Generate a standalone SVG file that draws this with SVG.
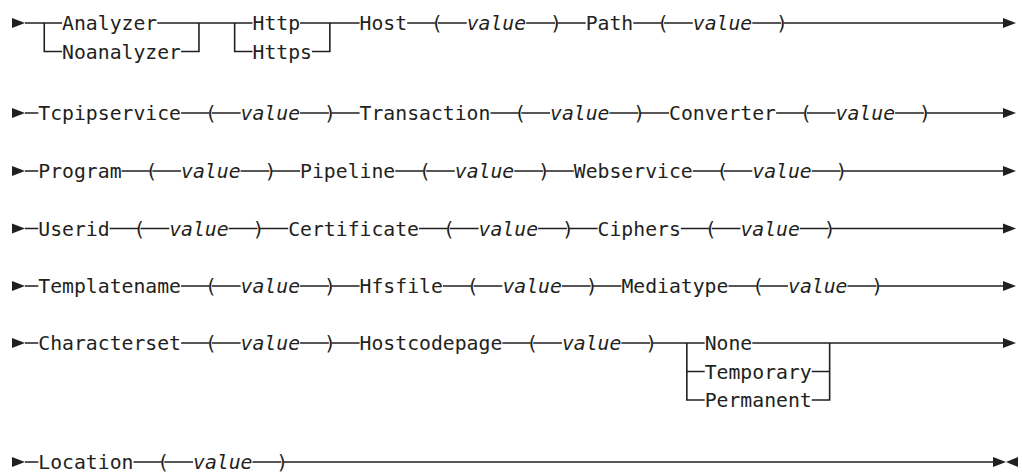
<svg xmlns="http://www.w3.org/2000/svg" width="1022" height="473" viewBox="0 0 1022 473">
<style>
.t{font-family:"DejaVu Sans Mono","Liberation Mono",monospace;font-size:19.75px;fill:#231f20}
.v{font-style:italic}
.ln{fill:none;stroke:#231f20;stroke-width:1.6}
.ar{fill:#231f20}
</style>
<rect width="1022" height="473" fill="#fff"/>
<g id="connectors">
<path class="ln" d="M25 23H62.1 M44.25 23V51.5H62.1 M157.3 23H252.5 M181.1 51.5H198.95V23 M234.65 23V51.5H252.5 M300.1 23H359.6 M312 51.5H329.85V23 M407.2 23H435.5 M438 23H466.7 M526.2 23H555 M557.5 23H585.7 M633.3 23H661.6 M664.1 23H692.8 M752.3 23H781.1 M783.6 23H1004"/>
<path class="ln" d="M25 113H38.3 M181.1 113H209.4 M211.9 113H240.6 M300.1 113H328.9 M331.4 113H359.6 M490.5 113H518.8 M521.3 113H550 M609.5 113H638.3 M640.8 113H669 M776.1 113H804.4 M806.9 113H835.6 M895.1 113H923.9 M926.4 113H1004"/>
<path class="ln" d="M25 171H38.3 M121.6 171H149.9 M152.4 171H181.1 M240.6 171H269.4 M271.9 171H300.1 M395.3 171H423.6 M426.1 171H454.8 M514.3 171H543.1 M545.6 171H573.8 M692.8 171H721.1 M723.6 171H752.3 M811.8 171H840.6 M843.1 171H1004"/>
<path class="ln" d="M25 228.5H38.3 M109.7 228.5H138 M140.5 228.5H169.2 M228.7 228.5H257.5 M260 228.5H288.2 M419.1 228.5H447.4 M449.9 228.5H478.6 M538.1 228.5H566.9 M569.4 228.5H597.6 M680.9 228.5H709.2 M711.7 228.5H740.4 M799.9 228.5H828.7 M831.2 228.5H1004"/>
<path class="ln" d="M25 286H38.3 M181.1 286H209.4 M211.9 286H240.6 M300.1 286H328.9 M331.4 286H359.6 M442.9 286H471.2 M473.7 286H502.4 M561.9 286H590.7 M593.2 286H621.4 M728.5 286H756.8 M759.3 286H788 M847.5 286H876.3 M878.8 286H1004"/>
<path class="ln" d="M25 343H38.3 M181.1 343H209.4 M211.9 343H240.6 M300.1 343H328.9 M331.4 343H359.6 M502.4 343H530.7 M533.2 343H561.9 M621.4 343H650.2 M652.7 343H704.7 M686.85 343V400H704.7 M686.85 371.5H704.7 M752.3 343H1004 M811.8 371.5H829.65 M811.8 400H829.65V343"/>
<path class="ln" d="M25 462H38.3 M133.5 462H161.8 M164.3 462H193 M252.5 462H281.3 M283.8 462H994"/>
<polygon class="ar" points="12,18 25,23 12,28"/>
<polygon class="ar" points="1003,18 1016,23 1003,28"/>
<polygon class="ar" points="12,108 25,113 12,118"/>
<polygon class="ar" points="1003,108 1016,113 1003,118"/>
<polygon class="ar" points="12,166 25,171 12,176"/>
<polygon class="ar" points="1003,166 1016,171 1003,176"/>
<polygon class="ar" points="12,223.5 25,228.5 12,233.5"/>
<polygon class="ar" points="1003,223.5 1016,228.5 1003,233.5"/>
<polygon class="ar" points="12,281 25,286 12,291"/>
<polygon class="ar" points="1003,281 1016,286 1003,291"/>
<polygon class="ar" points="12,338 25,343 12,348"/>
<polygon class="ar" points="1003,338 1016,343 1003,348"/>
<polygon class="ar" points="12,457 25,462 12,467"/>
<polygon class="ar" points="993,457 1006,462 993,467"/>
<polygon class="ar" points="1018,457 1006,462 1018,467"/>
</g>
<g id="analyzer-choice"><text class="t" x="62.1" y="30">Analyzer</text><text class="t" x="62.1" y="58.5">Noanalyzer</text></g>
<g id="http-choice"><text class="t" x="252.5" y="30">Http</text><text class="t" x="252.5" y="58.5">Https</text></g>
<g id="host"><text class="t" x="359.6" y="30">Host</text><text class="t" x="431" y="30">(</text><text class="t v" x="466.7" y="30">value</text><text class="t" x="550" y="30">)</text></g>
<g id="path"><text class="t" x="585.7" y="30">Path</text><text class="t" x="657.1" y="30">(</text><text class="t v" x="692.8" y="30">value</text><text class="t" x="776.1" y="30">)</text></g>
<g id="tcpipservice"><text class="t" x="38.3" y="120">Tcpipservice</text><text class="t" x="204.9" y="120">(</text><text class="t v" x="240.6" y="120">value</text><text class="t" x="323.9" y="120">)</text></g>
<g id="transaction"><text class="t" x="359.6" y="120">Transaction</text><text class="t" x="514.3" y="120">(</text><text class="t v" x="550" y="120">value</text><text class="t" x="633.3" y="120">)</text></g>
<g id="converter"><text class="t" x="669" y="120">Converter</text><text class="t" x="799.9" y="120">(</text><text class="t v" x="835.6" y="120">value</text><text class="t" x="918.9" y="120">)</text></g>
<g id="program"><text class="t" x="38.3" y="178">Program</text><text class="t" x="145.4" y="178">(</text><text class="t v" x="181.1" y="178">value</text><text class="t" x="264.4" y="178">)</text></g>
<g id="pipeline"><text class="t" x="300.1" y="178">Pipeline</text><text class="t" x="419.1" y="178">(</text><text class="t v" x="454.8" y="178">value</text><text class="t" x="538.1" y="178">)</text></g>
<g id="webservice"><text class="t" x="573.8" y="178">Webservice</text><text class="t" x="716.6" y="178">(</text><text class="t v" x="752.3" y="178">value</text><text class="t" x="835.6" y="178">)</text></g>
<g id="userid"><text class="t" x="38.3" y="235.5">Userid</text><text class="t" x="133.5" y="235.5">(</text><text class="t v" x="169.2" y="235.5">value</text><text class="t" x="252.5" y="235.5">)</text></g>
<g id="certificate"><text class="t" x="288.2" y="235.5">Certificate</text><text class="t" x="442.9" y="235.5">(</text><text class="t v" x="478.6" y="235.5">value</text><text class="t" x="561.9" y="235.5">)</text></g>
<g id="ciphers"><text class="t" x="597.6" y="235.5">Ciphers</text><text class="t" x="704.7" y="235.5">(</text><text class="t v" x="740.4" y="235.5">value</text><text class="t" x="823.7" y="235.5">)</text></g>
<g id="templatename"><text class="t" x="38.3" y="293">Templatename</text><text class="t" x="204.9" y="293">(</text><text class="t v" x="240.6" y="293">value</text><text class="t" x="323.9" y="293">)</text></g>
<g id="hfsfile"><text class="t" x="359.6" y="293">Hfsfile</text><text class="t" x="466.7" y="293">(</text><text class="t v" x="502.4" y="293">value</text><text class="t" x="585.7" y="293">)</text></g>
<g id="mediatype"><text class="t" x="621.4" y="293">Mediatype</text><text class="t" x="752.3" y="293">(</text><text class="t v" x="788" y="293">value</text><text class="t" x="871.3" y="293">)</text></g>
<g id="characterset"><text class="t" x="38.3" y="350">Characterset</text><text class="t" x="204.9" y="350">(</text><text class="t v" x="240.6" y="350">value</text><text class="t" x="323.9" y="350">)</text></g>
<g id="hostcodepage"><text class="t" x="359.6" y="350">Hostcodepage</text><text class="t" x="526.2" y="350">(</text><text class="t v" x="561.9" y="350">value</text><text class="t" x="645.2" y="350">)</text></g>
<g id="persistence-choice"><text class="t" x="704.7" y="350">None</text><text class="t" x="704.7" y="378.5">Temporary</text><text class="t" x="704.7" y="407">Permanent</text></g>
<g id="location"><text class="t" x="38.3" y="469">Location</text><text class="t" x="157.3" y="469">(</text><text class="t v" x="193" y="469">value</text><text class="t" x="276.3" y="469">)</text></g>
</svg>
